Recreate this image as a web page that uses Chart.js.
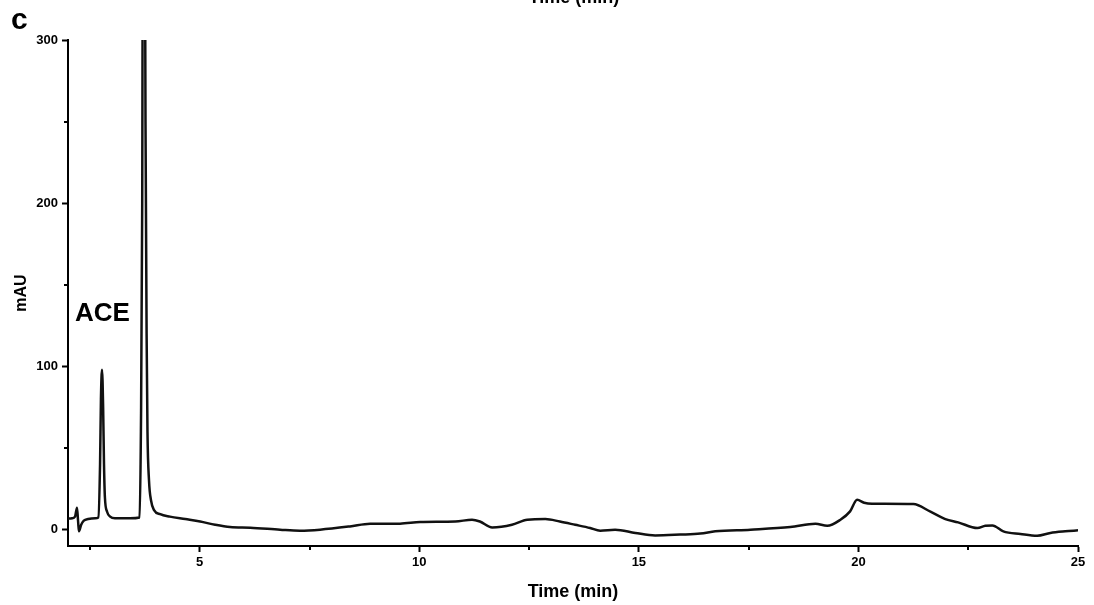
<!DOCTYPE html>
<html>
<head>
<meta charset="utf-8">
<script src="https://cdn.jsdelivr.net/npm/chart.js@4.4.1/dist/chart.umd.min.js"></script>
<style>
  html, body { margin: 0; padding: 0; background: #fff; }
  #wrap { position: relative; width: 1094px; height: 605px; }
</style>
</head>
<body>
<div id="wrap"><canvas id="c" width="1094" height="605"></canvas></div>
<script>
// ---- data ----
const timeMin = [2.00, 2.09, 2.16, 2.205, 2.23, 2.25, 2.30, 2.36, 2.46, 2.62, 2.69, 2.73, 2.75, 2.775, 2.80, 2.82, 2.84, 2.89, 2.96, 3.07, 3.41,
  3.63, 3.66, 3.69, 3.72, 3.765, 3.79, 3.81, 3.845, 3.89, 3.96, 4.10, 4.32, 4.67, 5.01, 5.35, 5.69, 6.15, 6.83, 7.28, 7.74,
  8.42, 8.88, 9.56, 10.02, 10.82, 11.20, 11.38, 11.66, 12.11, 12.46, 12.87, 13.20, 13.55, 13.89, 14.12, 14.46, 14.92, 15.37,
  15.94, 16.40, 16.74, 17.54, 18.45, 19.02, 19.29, 19.59, 19.81, 19.97, 20.13, 20.31, 21.25, 21.64, 21.98, 22.27, 22.71,
  22.89, 23.05, 23.30, 23.69, 24.07, 24.37, 24.71, 25.00];
const absorbance = [6.7, 7.0, 8.0, 13.5, 5.0, -1.0, 3.0, 5.5, 6.5, 7.0, 7.5, 40, 80, 98, 75, 40, 20, 11, 8, 7, 7,
  7.5, 60, 200, 600, 250, 120, 60, 30, 18, 12, 9.5, 8, 6.5, 5, 3, 1.6, 1.2, 0, -0.6, 0,
  2, 3.7, 3.7, 4.7, 5, 6.1, 5, 1.4, 3, 6.1, 6.5, 5, 3, 1, -0.6, 0, -2, -3.5,
  -3, -2.4, -1, 0, 1.6, 3.7, 2.4, 6.1, 11.2, 18.3, 16.5, 15.9, 15.7, 11, 6.5, 4.5, 1,
  2.4, 2.6, -1, -2.6, -3.7, -2, -1, -0.4];
const xMajorTicks = [5, 10, 15, 20, 25];
const xMinorTicks = [2.5, 7.5, 12.5, 17.5, 22.5];
const yMajorTicks = [0, 100, 200, 300];
const yMinorTicks = [50, 150, 250];
const xTitle = 'Time (min)';
const yTitle = 'mAU';
const panelLabel = 'c';
const peakLabel = 'ACE';

const FONT = "'Liberation Sans', Arial, Helvetica, sans-serif";

const extras = {
  id: 'extras',
  afterDraw(chart) {
    const ctx = chart.ctx;
    const xs = chart.scales.x, ys = chart.scales.y;
    ctx.save();
    ctx.strokeStyle = '#000';
    ctx.lineWidth = 2;
    ctx.beginPath();
    xMinorTicks.forEach(v => {
      const px = Math.round(xs.getPixelForValue(v));
      ctx.moveTo(px, xs.top); ctx.lineTo(px, xs.top + 4);
    });
    yMinorTicks.forEach(v => {
      const py = Math.round(ys.getPixelForValue(v));
      ctx.moveTo(ys.right, py); ctx.lineTo(ys.right - 4, py);
    });
    ctx.stroke();
    ctx.fillStyle = '#000';
    ctx.textBaseline = 'alphabetic';
    ctx.textAlign = 'left';
    ctx.font = 'bold 30px ' + FONT;
    ctx.fillText(panelLabel, 11, 29);
    ctx.font = 'bold 26px ' + FONT;
    ctx.fillText(peakLabel, 75, 321);
    ctx.font = 'bold 18px ' + FONT;
    ctx.textAlign = 'center';
    ctx.fillText(xTitle, 574, 3);
    ctx.restore();
  }
};

new Chart(document.getElementById('c'), {
  type: 'line',
  data: {
    datasets: [{
      data: timeMin.map((t, i) => ({ x: t, y: absorbance[i] })),
      borderColor: '#111',
      borderWidth: 2.5,
      pointRadius: 0,
      fill: false,
      cubicInterpolationMode: 'monotone'
    }]
  },
  options: {
    responsive: false,
    animation: false,
    layout: { padding: { top: 40, right: 16, left: 0, bottom: 0 } },
    plugins: { legend: { display: false }, tooltip: { enabled: false } },
    scales: {
      x: {
        type: 'linear',
        min: 2, max: 25,
        afterBuildTicks: s => { s.ticks = xMajorTicks.map(v => ({ value: v })); },
        afterFit: s => { s.height = 59; },
        border: { display: true, color: '#000', width: 2 },
        grid: { drawOnChartArea: false, drawTicks: true, tickLength: 6, tickWidth: 2, tickColor: '#000' },
        ticks: { color: '#000', font: { family: FONT, size: 13, weight: 'bold' }, padding: 3, maxRotation: 0 },
        title: { display: true, text: xTitle, color: '#000', font: { family: FONT, size: 18, weight: 'bold' }, padding: { top: 0, bottom: 2 } }
      },
      y: {
        type: 'linear',
        min: -10, max: 300,
        afterBuildTicks: s => { s.ticks = yMajorTicks.map(v => ({ value: v })); },
        afterFit: s => { s.width = 68; },
        border: { display: true, color: '#000', width: 2 },
        grid: { drawOnChartArea: false, drawTicks: true, tickLength: 6, tickWidth: 2, tickColor: '#000' },
        ticks: { color: '#000', font: { family: FONT, size: 13, weight: 'bold' }, padding: 4 },
        title: { display: true, text: yTitle, color: '#000', font: { family: FONT, size: 16, weight: 'bold' }, padding: { top: 12, bottom: 0 } }
      }
    }
  },
  plugins: [extras]
});
</script>
</body>
</html>
